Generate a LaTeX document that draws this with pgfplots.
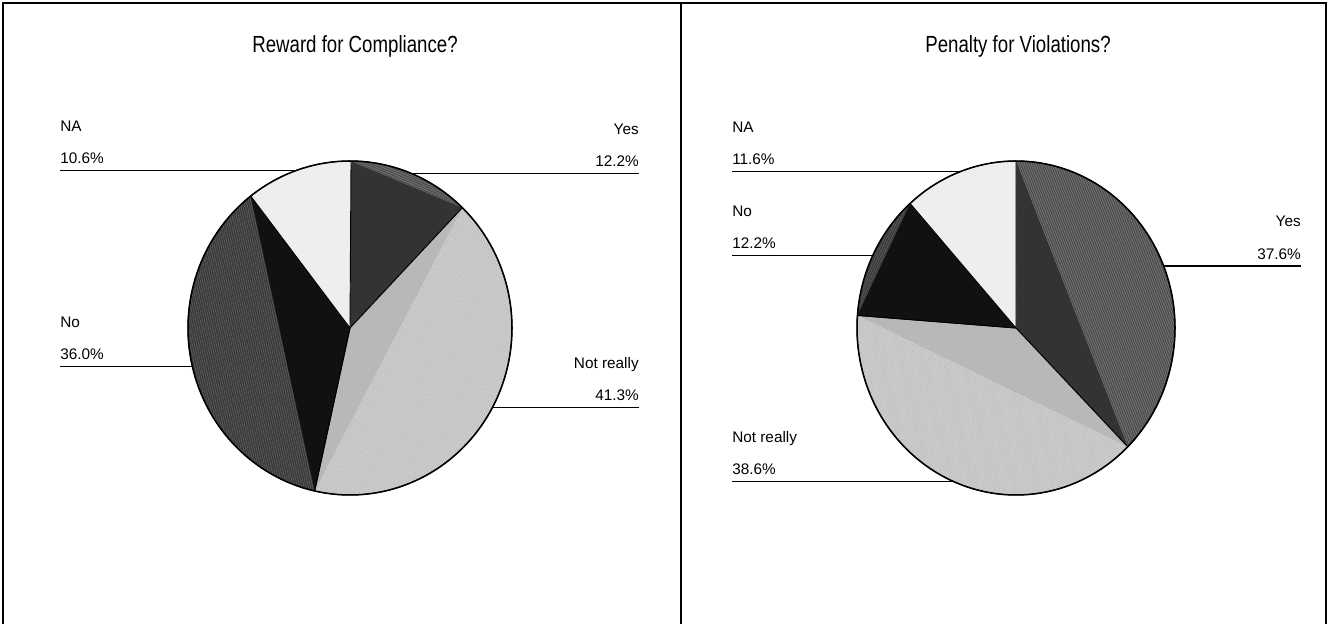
\documentclass[border=0pt]{standalone}
\usepackage{pgfplots}
\pgfplotsset{compat=1.18}
\usetikzlibrary{patterns.meta}
\usepackage{fontspec}
\setmainfont{Liberation Sans}

\definecolor{yesTri}{HTML}{333333}
\definecolor{yesSeg}{HTML}{4C4C4C}
\definecolor{yesLn}{HTML}{777777}
\definecolor{nrTri}{HTML}{B8B8B8}
\definecolor{nrSeg}{HTML}{C0C0C0}
\definecolor{nrLn}{HTML}{D4D4D4}
\definecolor{noTri}{HTML}{111111}
\definecolor{noSeg}{HTML}{383838}
\definecolor{noLn}{HTML}{5C5C5C}
\definecolor{naTri}{HTML}{EEEEEE}
\definecolor{naSeg}{HTML}{EBEBEB}
\definecolor{naLn}{HTML}{F2F2F2}

% pixel grid of the reference: x 0..1329, y 0..624 (y up), pies centred at y=296
\def\cy{296}
\def\ry{167}

% \slice{cx}{rx}{percent}{segment colour}{triangle colour}{stripe colour}; start angle in \cur
\newcommand\slice[6]{%
  \pgfmathsetmacro\sA{\cur}%
  \pgfmathsetmacro\sB{\cur-3.6*#3}%
  \pgfmathsetmacro\ang{atan2(\ry*(sin(\sB)-sin(\sA)),#2*(cos(\sB)-cos(\sA)))}%
  \edef\doit{%
    \noexpand\addplot[fill=#4, draw=none, domain=\sB:\sA, samples=90]
      ({#1+#2*cos(x)},{\cy+\ry*sin(x)}) -- (axis cs:#1,\cy) -- cycle;
    \noexpand\addplot[pattern={Lines[angle=\ang, distance=1.6pt, line width=0.55pt]},
      pattern color=#6, draw=none, domain=\sB:\sA, samples=90]
      ({#1+#2*cos(x)},{\cy+\ry*sin(x)}) -- (axis cs:#1,\cy) -- cycle;
    \noexpand\addplot[fill=#5, draw=none, domain=\sB:\sA, samples=2]
      ({#1+#2*cos(x)},{\cy+\ry*sin(x)}) -- (axis cs:#1,\cy) -- cycle;
    \noexpand\addplot[draw=black, line width=0.7pt, fill=none, domain=\sB:\sA, samples=90]
      ({#1+#2*cos(x)},{\cy+\ry*sin(x)}) -- (axis cs:#1,\cy) -- cycle;}%
  \doit
  \xdef\cur{\sB}}

% label on the left: \leftlab{x0}{cx}{rx}{line y}{name}{pct}
\newcommand\leftlab[6]{%
  \draw[line width=0.9pt] (axis cs:#1,#4) -- (axis cs:{#2-#3*sqrt(1-((#4-\cy)/\ry)^2)},#4);
  \node[anchor=base west, inner sep=0pt] at (axis cs:#1,#4+39) {#5};
  \node[anchor=base west, inner sep=0pt] at (axis cs:#1,#4+6.7) {#6};}
\newcommand\rightlab[6]{%
  \draw[line width=0.9pt] (axis cs:#1,#4) -- (axis cs:{#2+#3*sqrt(1-((#4-\cy)/\ry)^2)},#4);
  \node[anchor=base east, inner sep=0pt] at (axis cs:#1,#4+39) {#5};
  \node[anchor=base east, inner sep=0pt] at (axis cs:#1,#4+6.7) {#6};}

\begin{document}
\begin{tikzpicture}
\begin{axis}[
  width=996.75pt, height=468pt, scale only axis,
  xmin=0, xmax=1329, ymin=0, ymax=624,
  hide axis, clip=false,
  font=\fontsize{11.5}{13}\selectfont,
  ]
  \path (axis cs:0,0) rectangle (axis cs:1329,624);

  % frame
  \draw[line width=1.9pt] (axis cs:3,0) -- (axis cs:3,621) -- (axis cs:1326,621) -- (axis cs:1326,0);
  \draw[line width=1.9pt] (axis cs:681,0) -- (axis cs:681,621);

  % Reward for Compliance?  Yes 12.2, Not really 41.3, No 36.0, NA 10.6
  \gdef\cur{90}
  \slice{350}{162}{12.2}{yesSeg}{yesTri}{yesLn}
  \slice{350}{162}{41.3}{nrSeg}{nrTri}{nrLn}
  \slice{350}{162}{36.0}{noSeg}{noTri}{noLn}
  \slice{350}{162}{10.6}{naSeg}{naTri}{naLn}
  \addplot[draw=black, line width=1.15pt, domain=0:360, samples=180]
    ({350+162*cos(x)},{\cy+\ry*sin(x)});

  % Penalty for Violations?  Yes 37.6, Not really 38.6, No 12.2, NA 11.6
  \gdef\cur{90}
  \slice{1016}{159}{37.6}{yesSeg}{yesTri}{yesLn}
  \slice{1016}{159}{38.6}{nrSeg}{nrTri}{nrLn}
  \slice{1016}{159}{12.2}{noSeg}{noTri}{noLn}
  \slice{1016}{159}{11.6}{naSeg}{naTri}{naLn}
  \addplot[draw=black, line width=1.15pt, domain=0:360, samples=180]
    ({1016+159*cos(x)},{\cy+\ry*sin(x)});

  % titles
  \node[font=\fontsize{17.5}{20}\selectfont, xscale=0.8] at (axis cs:355,578) {Reward for Compliance?};
  \node[font=\fontsize{17.5}{20}\selectfont, xscale=0.8] at (axis cs:1018,578) {Penalty for Violations?};

  % labels (line y in axis units)
  \leftlab{60}{350}{162}{453.3}{NA}{10.6\%}
  \rightlab{639}{350}{162}{450.7}{Yes}{12.2\%}
  \leftlab{60}{350}{162}{257.5}{No}{36.0\%}
  \rightlab{639}{350}{162}{216.5}{Not really}{41.3\%}

  \leftlab{732}{1016}{159}{452.3}{NA}{11.6\%}
  \leftlab{732}{1016}{159}{368.3}{No}{12.2\%}
  \rightlab{1301}{1016}{159}{358}{Yes}{37.6\%}
  \leftlab{732}{1016}{159}{142.3}{Not really}{38.6\%}
\end{axis}
\end{tikzpicture}
\end{document}
